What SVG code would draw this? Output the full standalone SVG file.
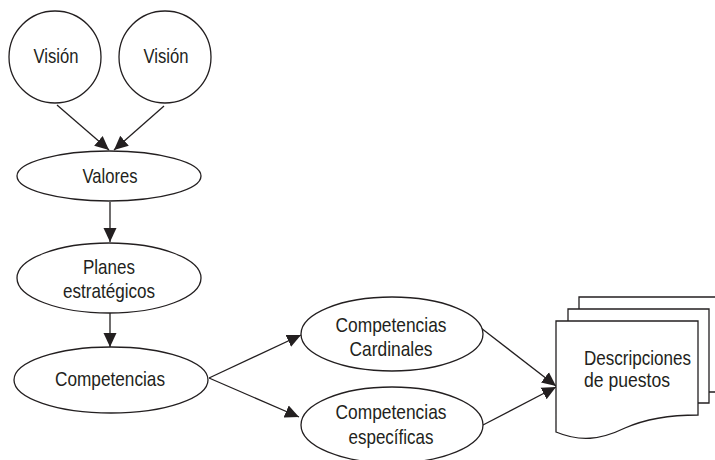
<svg xmlns="http://www.w3.org/2000/svg" width="715" height="460" viewBox="0 0 715 460">
  <style>
    .shape { fill: #fff; stroke: #231f20; stroke-width: 1.3; }
    .edge { fill: none; stroke: #231f20; stroke-width: 1.3; }
    text { font-family: "Liberation Sans Narrow", "Liberation Sans", Arial, sans-serif; font-size: 21px; fill: #231f20; text-anchor: middle; }
    .left { text-anchor: start; }
  </style>
  <defs>
    <marker id="arrow" markerUnits="userSpaceOnUse" markerWidth="15" markerHeight="15" viewBox="0 0 15 15" refX="14" refY="7.5" orient="auto">
      <path d="M0,1 L14,7.5 L0,14 Z" fill="#231f20"/>
    </marker>
  </defs>

  <g id="connectors">
    <line class="edge" x1="57" y1="105" x2="109" y2="150" marker-end="url(#arrow)"/>
    <line class="edge" x1="164" y1="106" x2="114" y2="150" marker-end="url(#arrow)"/>
    <line class="edge" x1="110" y1="202" x2="110" y2="242" marker-end="url(#arrow)"/>
    <line class="edge" x1="110" y1="313" x2="110" y2="347" marker-end="url(#arrow)"/>
    <line class="edge" x1="209" y1="378" x2="301" y2="335" marker-end="url(#arrow)"/>
    <line class="edge" x1="209" y1="378" x2="299" y2="417" marker-end="url(#arrow)"/>
    <line class="edge" x1="481" y1="328" x2="556" y2="386" marker-end="url(#arrow)"/>
    <line class="edge" x1="483" y1="425" x2="556" y2="387" marker-end="url(#arrow)"/>
  </g>

  <g id="vision-1">
    <circle class="shape" cx="55" cy="57" r="46"/>
    <text x="56" y="63" textLength="45" lengthAdjust="spacingAndGlyphs">Visión</text>
  </g>
  <g id="vision-2">
    <circle class="shape" cx="165" cy="57" r="46"/>
    <text x="166" y="63" textLength="45" lengthAdjust="spacingAndGlyphs">Visión</text>
  </g>
  <g id="valores">
    <ellipse class="shape" cx="109" cy="176" rx="92" ry="25"/>
    <text x="110" y="183" textLength="55" lengthAdjust="spacingAndGlyphs">Valores</text>
  </g>
  <g id="planes">
    <ellipse class="shape" cx="109" cy="278" rx="92" ry="35"/>
    <text x="109" y="274" textLength="52" lengthAdjust="spacingAndGlyphs">Planes</text>
    <text x="109" y="298" textLength="92" lengthAdjust="spacingAndGlyphs">estratégicos</text>
  </g>
  <g id="competencias">
    <ellipse class="shape" cx="111" cy="380" rx="97" ry="33"/>
    <text x="110" y="386" textLength="110" lengthAdjust="spacingAndGlyphs">Competencias</text>
  </g>
  <g id="cardinales">
    <ellipse class="shape" cx="392" cy="334" rx="91" ry="37"/>
    <text x="391" y="332" textLength="111" lengthAdjust="spacingAndGlyphs">Competencias</text>
    <text x="391" y="356" textLength="83" lengthAdjust="spacingAndGlyphs">Cardinales</text>
  </g>
  <g id="especificas">
    <ellipse class="shape" cx="392" cy="425" rx="91" ry="38"/>
    <text x="391" y="419" textLength="111" lengthAdjust="spacingAndGlyphs">Competencias</text>
    <text x="391" y="444" textLength="85" lengthAdjust="spacingAndGlyphs">específicas</text>
  </g>
  <g id="descripciones">
    <path class="shape" d="M579,297 L730,297 L730,392 L579,392 Z"/>
    <path class="shape" d="M568,309 L709,309 L709,403 L568,403 Z"/>
    <path class="shape" d="M556,321 L698,321 L698,415 C675,415 650,417 625,428 C600,440 580,442 556,432 Z"/>
    <text class="left" x="584" y="365" textLength="107" lengthAdjust="spacingAndGlyphs">Descripciones</text>
    <text class="left" x="584" y="387" textLength="86" lengthAdjust="spacingAndGlyphs">de puestos</text>
  </g>
</svg>
